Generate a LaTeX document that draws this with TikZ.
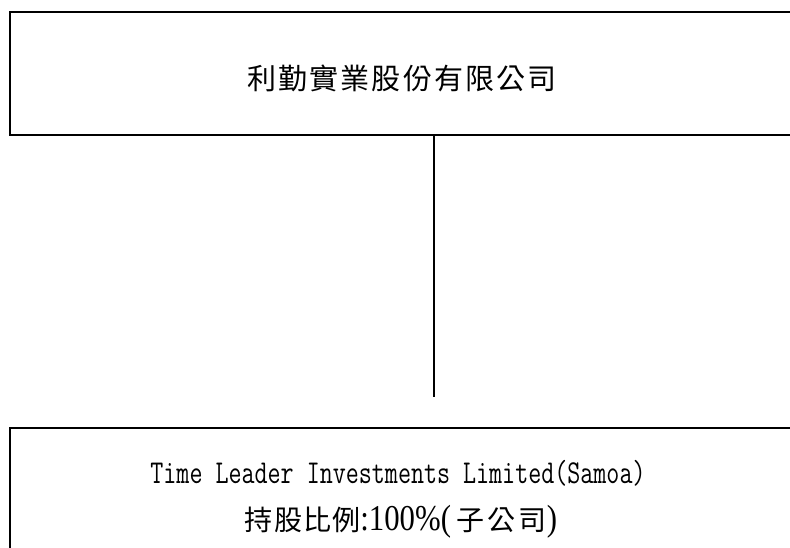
\documentclass[tikz,border=0pt]{standalone}
\usepackage{fontspec}
\setmainfont{Liberation Serif}
\newfontfamily\cjktop[LetterSpace=7]{Noto Sans CJK TC}
\newfontfamily\cjkmid[LetterSpace=4]{Noto Sans CJK TC}
\newfontfamily\cjkwide[LetterSpace=12]{Noto Sans CJK TC}
\begin{document}
\begin{tikzpicture}[x=1pt,y=-1pt,
  box/.style={draw,line width=2pt,rectangle,inner sep=0pt},
  lbl/.style={inner sep=0pt,text=black,anchor=base},
  conn/.style={line width=1.8pt}]
\useasboundingbox (0,0) rectangle (790,548);
\clip (0,0) rectangle (790,548);
\node[box,minimum width=830pt,minimum height=123pt,anchor=north west] (top) at (9,11) {};
\node[box,minimum width=830pt,minimum height=160pt,anchor=north west] (bottom) at (9,427) {};
\node[lbl,font=\cjktop\fontsize{29}{33}\selectfont] (toptext) at (402,90) {利勤實業股份有限公司};
\node[lbl,font=\ttfamily\fontsize{25.3}{30}\selectfont] (entext) at (398,483) {\scalebox{1}[1.32]{Time Leader Investments Limited(Samoa)}};
\node[lbl,font=\fontsize{28}{32}\selectfont] (pcttext) at (401,530) {{\cjkmid 持股比例}\scalebox{1.1}[1.3]{:100\%(}\hspace{5pt}{\cjkwide 子公司}\scalebox{1.1}[1.3]{)}};
\coordinate (cend) at (434,397);
\draw[conn] (top.south -| cend) -- (cend);
\end{tikzpicture}
\end{document}
